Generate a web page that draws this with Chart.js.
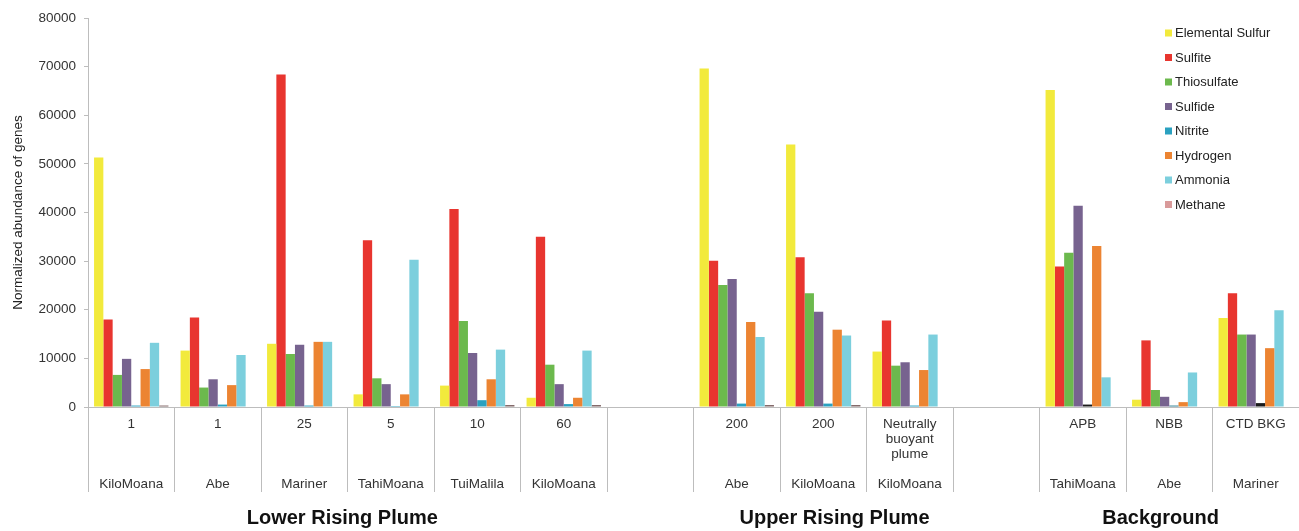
<!DOCTYPE html>
<html>
<head>
<meta charset="utf-8">
<script src="https://cdn.jsdelivr.net/npm/chart.js@4"></script>
<style>
  html, body { margin: 0; padding: 0; background: #fff; }
  #wrap { width: 1299px; height: 531px; position: relative; }
</style>
</head>
<body>
<div id="wrap"><canvas id="genesChart"></canvas></div>
<script>
// sample slots (empty strings are the spacer columns between groups)
const sampleLabels = ['1', '1', '25', '5', '10', '60', '', '200', '200', 'Neutrally\nbuoyant\nplume', '', 'APB', 'NBB', 'CTD BKG'];
const siteLabels = ['KiloMoana', 'Abe', 'Mariner', 'TahiMoana', 'TuiMalila', 'KiloMoana', '', 'Abe', 'KiloMoana', 'KiloMoana', '', 'TahiMoana', 'Abe', 'Mariner'];

const groupNames = ['Lower Rising Plume', 'Upper Rising Plume', 'Background'];
const groupCenters = [2.44, 8.13, 11.9]; // in category units

const elementalSulfur = [51300, 11600, 13000, 2600, 4400, 1900, null, 69600, 54000, 11400, null, 65200, 1500, 18300];
const sulfite         = [18000, 18400, 68400, 34300, 40700, 35000, null, 30100, 30800, 17800, null, 28900, 13700, 23400];
const thiosulfate     = [6600, 4000, 10900, 5900, 17700, 8700, null, 25100, 23400, 8500, null, 31700, 3500, 14900];
const sulfide         = [9900, 5700, 12800, 4700, 11100, 4700, null, 26300, 19600, 9200, null, 41400, 2100, 14900];
const nitrite         = [300, 500, 300, 200, 1400, 600, null, 700, 700, 300, null, 500, 300, 800];
const hydrogen        = [7800, 4500, 13400, 2600, 5700, 1900, null, 17500, 15900, 7600, null, 33100, 1000, 12100];
const ammonia         = [13200, 10700, 13400, 30300, 11800, 11600, null, 14400, 14700, 14900, null, 6100, 7100, 19900];
const methane         = [300, 100, 100, 100, 400, 400, null, 400, 400, 100, null, 100, 100, 100];

const yTicks = [0, 10000, 20000, 30000, 40000, 50000, 60000, 70000, 80000];

// build multi-level tick labels: sample on top, site at the bottom
const tickLabels = sampleLabels.map((s, i) => {
  if (!s && !siteLabels[i]) return [''];
  const top = s.split('\n');
  while (top.length < 4) top.push('');
  return top.concat([siteLabels[i]]);
});

const nitriteColors = nitrite.map((v, i) => (i === 11 || i === 13) ? '#1b1b1b' : (i === 12 ? '#2c7f92' : '#2aa1c0'));
const methaneColors = methane.map((v) => v >= 300 ? '#7d6262' : '#d99a9a');

const series = [
  { label: 'Elemental Sulfur', data: elementalSulfur, color: '#f2ea3c' },
  { label: 'Sulfite', data: sulfite, color: '#e8352f' },
  { label: 'Thiosulfate', data: thiosulfate, color: '#6cb94d' },
  { label: 'Sulfide', data: sulfide, color: '#77638f' },
  { label: 'Nitrite', data: nitrite, color: nitriteColors, legendColor: '#2aa1c0' },
  { label: 'Hydrogen', data: hydrogen, color: '#ec8432' },
  { label: 'Ammonia', data: ammonia, color: '#7ccfdd' },
  { label: 'Methane', data: methane, color: methaneColors, legendColor: '#d99a9a' }
];

const FONT = '"Liberation Sans", Arial, Helvetica, sans-serif';

const sideLegend = {
  id: 'sideLegend',
  afterDraw(chart) {
    const ctx = chart.ctx;
    ctx.save();
    ctx.font = '13px ' + FONT;
    ctx.textBaseline = 'middle';
    ctx.textAlign = 'left';
    series.forEach((s, i) => {
      const y = 33.5 + i * 24.5;
      ctx.fillStyle = s.legendColor || s.color;
      ctx.fillRect(1165, y - 4, 7, 7);
      ctx.fillStyle = '#222';
      ctx.fillText(s.label, 1175, y);
    });
    ctx.restore();
  }
};

const groupTitles = {
  id: 'groupTitles',
  afterDraw(chart) {
    const ctx = chart.ctx;
    const x = chart.scales.x;
    ctx.save();
    ctx.font = 'bold 20px ' + FONT;
    ctx.fillStyle = '#111';
    ctx.textAlign = 'center';
    ctx.textBaseline = 'middle';
    groupNames.forEach((name, i) => {
      ctx.fillText(name, x.getPixelForValue(groupCenters[i]), 518);
    });
    ctx.restore();
  }
};

new Chart(document.getElementById('genesChart'), {
  type: 'bar',
  data: {
    labels: tickLabels,
    datasets: series.map((s) => ({
      label: s.label,
      data: s.data,
      backgroundColor: s.color,
      borderWidth: 0,
      categoryPercentage: 0.86,
      barPercentage: 1
    }))
  },
  options: {
    responsive: true,
    maintainAspectRatio: false,
    animation: false,
    layout: { padding: { top: 18, right: 0, bottom: 0, left: 0 } },
    plugins: {
      legend: { display: false },
      tooltip: { enabled: false }
    },
    scales: {
      x: {
        afterFit(scale) { scale.height = 124; },
        grid: {
          offset: true,
          drawOnChartArea: false,
          drawTicks: true,
          tickLength: 85,
          color: '#bdbdbd',
          lineWidth: 1
        },
        border: { display: true, color: '#bdbdbd' },
        ticks: {
          autoSkip: false,
          maxRotation: 0,
          minRotation: 0,
          padding: -75,
          color: '#333',
          font: { family: FONT, size: 13.5, lineHeight: '15px' }
        }
      },
      y: {
        min: 0,
        max: 80000,
        afterFit(scale) { scale.width = 88; },
        afterBuildTicks(scale) { scale.ticks = yTicks.map((v) => ({ value: v })); },
        grid: {
          drawOnChartArea: false,
          drawTicks: true,
          tickLength: 4,
          color: '#bdbdbd'
        },
        border: { display: true, color: '#bdbdbd' },
        ticks: {
          padding: 8,
          color: '#333',
          font: { family: FONT, size: 13.5 },
          callback: (v) => String(v)
        },
        title: {
          display: true,
          text: 'Normalized abundance of genes',
          color: '#222',
          padding: { top: 10, bottom: 0 },
          font: { family: FONT, size: 13.5 }
        }
      }
    }
  },
  plugins: [sideLegend, groupTitles]
});
</script>
</body>
</html>
